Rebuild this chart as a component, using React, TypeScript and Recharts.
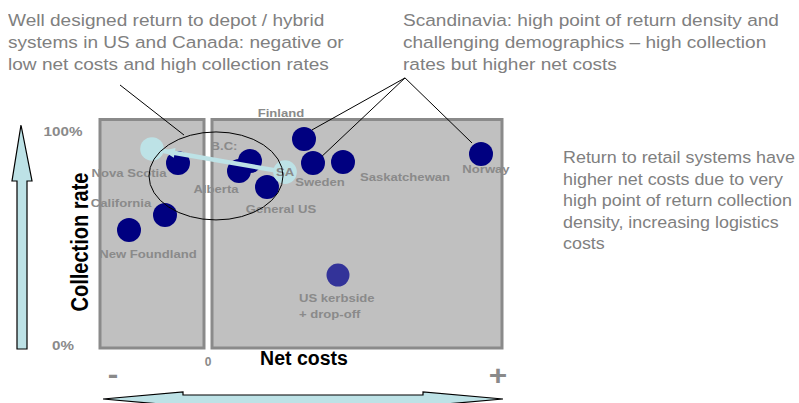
import React from "react";
import {
  ReferenceArea,
  ReferenceDot,
  ReferenceLine,
  Scatter,
  ScatterChart,
  XAxis,
  YAxis,
} from "recharts";

// net cost (arbitrary units, 0 = break-even) against collection rate (%)
const systems = [
  "Nova Scotia",
  "California",
  "New Foundland",
  "B.C:",
  "Alberta",
  "General US",
  "Finland",
  "Sweden",
  "Saskatchewan",
  "Norway",
];
const netCost = [-3.0, -4.3, -7.9, 4.2, 3.1, 5.9, 9.6, 10.5, 13.5, 27.3];
const collectionRate = [85.0, 60.7, 53.7, 86.0, 81.3, 73.8, 96.3, 85.0, 85.5, 89.3];

// South Australia and its move (light dots, joined by an arrow)
const saSystems = ["", "SA"];
const saNetCost = [-5.6, 7.7];
const saCollectionRate = [91.6, 80.8];

const kerbsideSystems = ["US kerbside\n+ drop-off"];
const kerbsideNetCost = [13.0];
const kerbsideRate = [32.7];

const rateTicks = [0, 100];
const costTicks = [0];

const depotNote = [
  "Well designed return to depot / hybrid",
  "systems in US and Canada: negative or",
  "low net costs and high collection rates",
];
const scandiNote = [
  "Scandinavia: high point of return density and",
  "challenging demographics \u2013 high collection",
  "rates but higher net costs",
];
const retailNote = [
  "Return to retail systems have",
  "higher net costs due to very",
  "high point of return collection",
  "density, increasing logistics",
  "costs",
];

const FONT = "'Liberation Sans', Arial, sans-serif";
const LABEL_GREY = "#8a8a8a";
const NOTE_GREY = "#808080";
const NAVY = "#000080";
const LIGHT = "#bde2e6";
const STRETCH = 1.17;

// label placement relative to each dot: [dx, dy of baseline, anchor]
const labelPos: Record<string, [number, number, string]> = {
  "Nova Scotia": [-49, 14, "middle"],
  California: [-44, -8, "middle"],
  "New Foundland": [19, 28, "middle"],
  "B.C:": [-26, -11, "middle"],
  Alberta: [-23, 22, "middle"],
  "General US": [14, 26, "middle"],
  Finland: [-23, -22, "middle"],
  Sweden: [7, 23, "middle"],
  Saskatchewan: [62, 19, "middle"],
  Norway: [5, 19, "middle"],
  SA: [0, 4, "middle"],
  "US kerbside\n+ drop-off": [-39, 27, "start"],
};

const navyData = systems.map((name, i) => ({ name, cost: netCost[i], rate: collectionRate[i] }));
const saData = saSystems.map((name, i) => ({ name, cost: saNetCost[i], rate: saCollectionRate[i] }));
const kerbsideData = kerbsideSystems.map((name, i) => ({
  name,
  cost: kerbsideNetCost[i],
  rate: kerbsideRate[i],
}));

const StretchText = ({ x, y, anchor = "middle", size, weight = "bold", fill = LABEL_GREY, children }: any) => (
  <text
    transform={`translate(${x} ${y}) scale(${STRETCH} 1)`}
    textAnchor={anchor}
    fontFamily={FONT}
    fontSize={size}
    fontWeight={weight}
    fill={fill}
  >
    {children}
  </text>
);

const makeDot = (r: number, fill: string) => (props: any) => {
  const { cx, cy } = props;
  const name: string = props.payload?.name ?? props.name ?? "";
  const pos = labelPos[name];
  return (
    <g>
      <circle cx={cx} cy={cy} r={r} fill={fill} />
      {pos &&
        name.split("\n").map((line, k) => (
          <StretchText key={k} x={cx + pos[0]} y={cy + pos[1] + k * 16} anchor={pos[2]} size={11.2}>
            {line}
          </StretchText>
        ))}
    </g>
  );
};

// line from the first point to the second, with an arrowhead pointing back at the first dot
const ArrowLine = (props: any) => {
  const pts = props.points || [];
  if (pts.length < 2) return <g />;
  const a = pts[0];
  const b = pts[pts.length - 1];
  const dx = b.x - a.x;
  const dy = b.y - a.y;
  const len = Math.hypot(dx, dy) || 1;
  const ux = dx / len;
  const uy = dy / len;
  const tip = { x: a.x + ux * 11, y: a.y + uy * 11 };
  const base = { x: tip.x + ux * 12, y: tip.y + uy * 12 };
  const w = 5;
  return (
    <g>
      <line x1={a.x} y1={a.y} x2={b.x} y2={b.y} stroke={LIGHT} strokeWidth={4.5} />
      <polygon
        points={`${tip.x},${tip.y} ${base.x - uy * w},${base.y + ux * w} ${base.x + uy * w},${base.y - ux * w}`}
        fill={LIGHT}
      />
    </g>
  );
};

const Note = ({ lines, left, top, stretch, lineHeight }: any) => (
  <div
    style={{
      position: "absolute",
      left,
      top,
      fontFamily: FONT,
      fontSize: 16.3,
      lineHeight: `${lineHeight}px`,
      color: NOTE_GREY,
      whiteSpace: "nowrap",
      transform: `scaleX(${stretch})`,
      transformOrigin: "left top",
    }}
  >
    {lines.map((l: string, i: number) => (
      <div key={i}>{l}</div>
    ))}
  </div>
);

export default function App() {
  return (
    <div
      style={{
        position: "absolute",
        left: 0,
        top: 0,
        width: 799,
        height: 403,
        background: "#fff",
        overflow: "hidden",
      }}
    >
      <ScatterChart width={799} height={403} margin={{ top: 118, right: 297, bottom: 25, left: 40 }}>
        <XAxis
          type="number"
          dataKey="cost"
          domain={[-10.8, 29.4]}
          ticks={costTicks}
          axisLine={false}
          tickLine={false}
          height={30}
          tick={(p: any) => (
            <text x={p.x} y={366} textAnchor="middle" fontFamily={FONT} fontSize={12} fontWeight="bold" fill={LABEL_GREY}>
              {p.payload.value}
            </text>
          )}
          label={() => (
            <text x={304} y={365} textAnchor="middle" fontFamily={FONT} fontSize={19.5} fontWeight="bold" fill="#000">
              Net costs
            </text>
          )}
        />
        <YAxis
          type="number"
          dataKey="rate"
          domain={[-1.4, 106.07]}
          ticks={rateTicks}
          axisLine={false}
          tickLine={false}
          width={60}
          tick={(p: any) => (
            <StretchText x={63} y={p.y + 5} size={13}>
              {`${p.payload.value}%`}
            </StretchText>
          )}
          label={() => (
            <text
              transform={`translate(88 242) scale(${STRETCH} 1) rotate(-90)`}
              textAnchor="middle"
              fontFamily={FONT}
              fontSize={20}
              fontWeight="bold"
              fill="#000"
            >
              Collection rate
            </text>
          )}
        />

        <ReferenceArea
          x1={-10.8}
          x2={-0.4}
          y1={-1.4}
          y2={105.37}
          fill="#c0c0c0"
          fillOpacity={1}
          stroke="#8a8a8a"
          strokeWidth={3}
          ifOverflow="visible"
        />
        <ReferenceArea
          x1={0.4}
          x2={29.4}
          y1={-1.4}
          y2={105.37}
          fill="#c0c0c0"
          fillOpacity={1}
          stroke="#8a8a8a"
          strokeWidth={3}
          ifOverflow="visible"
        />

        <Scatter data={navyData} isAnimationActive={false} shape={makeDot(12, NAVY)} />
        <Scatter
          data={saData}
          isAnimationActive={false}
          line={(p: any) => <ArrowLine {...p} />}
          shape={makeDot(11.8, LIGHT)}
        />
        <Scatter data={kerbsideData} isAnimationActive={false} shape={makeDot(11.5, "#333399")} />

        <ReferenceDot
          x={0.8}
          y={79.0}
          ifOverflow="visible"
          shape={(p: any) => <ellipse cx={p.cx} cy={p.cy} rx={67} ry={44} fill="none" stroke="#000" strokeWidth={1} />}
        />

        <ReferenceLine segment={[{ x: -8.8, y: 121.5 }, { x: -2.4, y: 98.1 }]} stroke="#000" strokeWidth={1} ifOverflow="visible" />
        <ReferenceLine segment={[{ x: 19.7, y: 124.8 }, { x: 10.4, y: 100.5 }]} stroke="#000" strokeWidth={1} ifOverflow="visible" />
        <ReferenceLine segment={[{ x: 19.7, y: 124.8 }, { x: 10.9, y: 86.0 }]} stroke="#000" strokeWidth={1} ifOverflow="visible" />
        <ReferenceLine segment={[{ x: 19.7, y: 124.8 }, { x: 26.4, y: 94.4 }]} stroke="#000" strokeWidth={1} ifOverflow="visible" />
      </ScatterChart>

      {/* axis arrows and +/- markers */}
      <svg width={799} height={403} style={{ position: "absolute", left: 0, top: 0, pointerEvents: "none" }}>
        <polygon
          points="21,125 32,181 27,181 27,349 17,349 17,181 12,181"
          fill={LIGHT}
          stroke="#000"
          strokeWidth={1.2}
        />
        <polygon
          points="103,399 183,392 183,395 423,395 423,392 503,399 423,406 423,403.5 183,403.5 183,406"
          fill={LIGHT}
          stroke="#000"
          strokeWidth={1.2}
        />
        <StretchText x={113} y={384} size={27}>
          -
        </StretchText>
        <StretchText x={498} y={385} size={27}>
          +
        </StretchText>
      </svg>

      <Note lines={depotNote} left={8} top={10} stretch={1.17} lineHeight={21.8} />
      <Note lines={scandiNote} left={403} top={10} stretch={1.17} lineHeight={21.8} />
      <Note lines={retailNote} left={563} top={147} stretch={1.1} lineHeight={21.6} />
    </div>
  );
}
